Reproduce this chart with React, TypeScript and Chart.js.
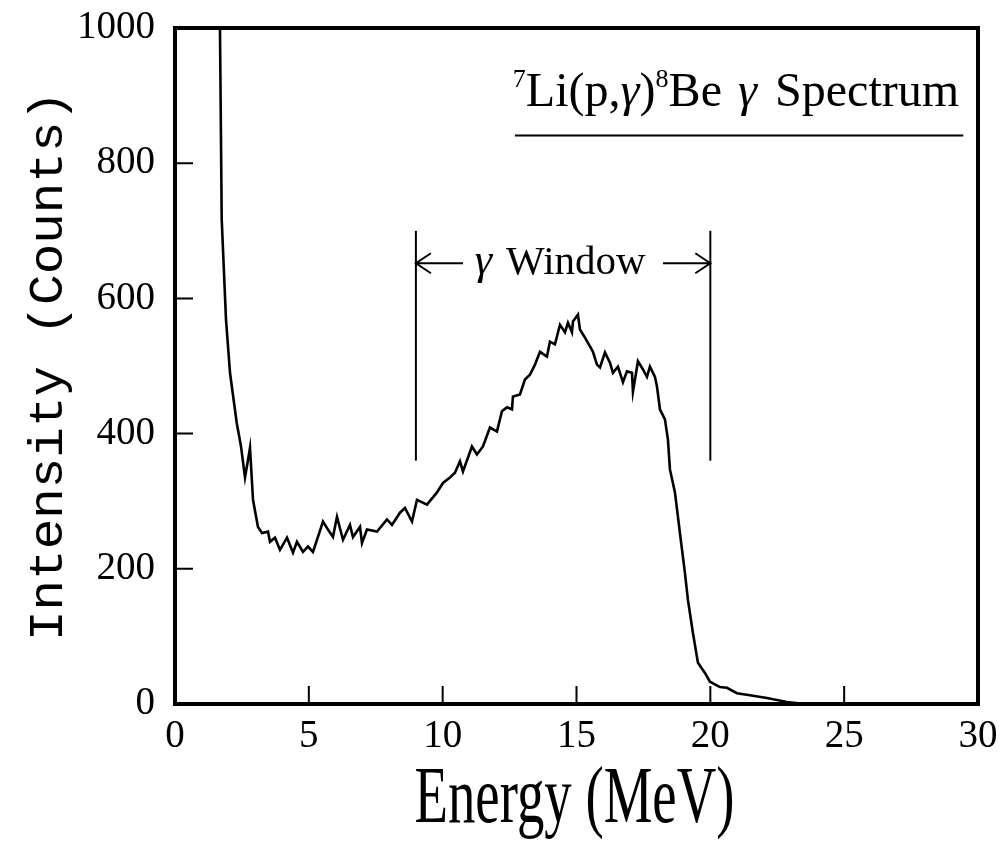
import React, { useEffect, useRef } from "react";
import { Chart, registerables } from "chart.js";

Chart.register(...registerables);

// Spectrum: energy (MeV) and counts
const energyMeV = [
  1.68, 1.745, 1.905, 2.055, 2.305, 2.466, 2.615, 2.727, 2.802, 2.914, 3.1, 3.25,
  3.474, 3.549, 3.736, 3.922, 4.184, 4.408, 4.557, 4.782, 4.968, 5.155, 5.529, 5.715,
  5.902, 6.052, 6.276, 6.537, 6.649, 6.911, 6.986, 7.172, 7.546, 7.919, 8.106, 8.405,
  8.592, 8.853, 9.04, 9.414, 9.787, 10.011, 10.273, 10.46, 10.646, 10.758, 11.094, 11.281,
  11.505, 11.767, 12.028, 12.215, 12.402, 12.589, 12.626, 12.888, 13.074, 13.261, 13.448, 13.635,
  13.896, 14.008, 14.195, 14.382, 14.569, 14.681, 14.83, 14.868, 15.054, 15.129, 15.316, 15.503,
  15.615, 15.764, 15.876, 16.063, 16.25, 16.362, 16.549, 16.735, 16.885, 17.072, 17.109, 17.296,
  17.482, 17.632, 17.744, 17.931, 18.005, 18.117, 18.304, 18.416, 18.491, 18.678, 18.864, 19.051,
  19.163, 19.35, 19.537, 19.798, 19.985, 20.359, 20.62, 20.994, 21.479, 22.114, 22.861, 23.534, 30,
];
const intensityCounts = [
  1000, 717, 569, 490, 416, 381, 335, 361, 379, 302, 262, 253,
  255, 240, 246, 228, 246, 224, 240, 225, 233, 225, 270, 258,
  247, 277, 243, 265, 247, 262, 238, 258, 255, 273, 265, 283,
  290, 270, 302, 295, 313, 327, 335, 342, 359, 344, 381, 369,
  381, 409, 403, 433, 439, 436, 455, 458, 480, 487, 502, 521,
  514, 536, 532, 561, 550, 564, 550, 566, 576, 554, 542, 529,
  521, 502, 498, 520, 505, 490, 499, 476, 492, 490, 462, 507,
  495, 484, 499, 484, 470, 436, 421, 391, 347, 313, 253, 194,
  154, 105, 61, 46, 33, 25, 24, 16, 13, 9, 3, 0, 0,
];

const xTickValues = [0, 5, 10, 15, 20, 25, 30];
const yTickValues = [0, 200, 400, 600, 800, 1000];

// gamma window markers
const windowEdges = [9, 20];
const windowLineCounts = [360, 700];
const windowArrowCount = 652;
const windowArrowInner = [10.76, 18.23];
const windowLabelEnergy = 11.2;
const windowLabelCount = 636;

// title and underline
const titleEnergyRange = [12.62, 29.3];
const titleCount = 884;
const underlineEnergy = [12.7, 29.45];
const underlineCount = 841;

const xTitle = "Energy (MeV)";
const yTitle = "Intensity (Counts)";

const SERIF = "'Liberation Serif', 'Times New Roman', serif";
const MONO = "'Liberation Mono', 'DejaVu Sans Mono', monospace";

const overlay = {
  id: "overlay",
  afterDatasetsDraw(chart: any) {
    const { ctx, chartArea: a, scales } = chart;
    const x = scales.x;
    const y = scales.y;
    ctx.save();
    ctx.fillStyle = "#000";
    ctx.strokeStyle = "#000";

    // frame
    ctx.lineWidth = 4;
    ctx.strokeRect(a.left, a.top, a.right - a.left, a.bottom - a.top);

    // inward ticks
    ctx.lineWidth = 2;
    ctx.beginPath();
    for (const t of yTickValues.slice(1, -1)) {
      const py = y.getPixelForValue(t);
      ctx.moveTo(a.left, py);
      ctx.lineTo(a.left + 18, py);
    }
    for (const t of xTickValues.slice(1, -1)) {
      const px = x.getPixelForValue(t);
      ctx.moveTo(px, a.bottom);
      ctx.lineTo(px, a.bottom - 18);
    }
    ctx.stroke();

    // window arrows
    const ay = y.getPixelForValue(windowArrowCount);
    ctx.lineWidth = 2;
    const arrow = (from: number, to: number) => {
      const fx = x.getPixelForValue(from);
      const tx = x.getPixelForValue(to);
      const dir = tx > fx ? 1 : -1;
      ctx.beginPath();
      ctx.moveTo(fx, ay);
      ctx.lineTo(tx, ay);
      ctx.moveTo(tx - dir * 15, ay - 10);
      ctx.lineTo(tx, ay);
      ctx.lineTo(tx - dir * 15, ay + 10);
      ctx.stroke();
    };
    arrow(windowArrowInner[0], windowEdges[0]);
    arrow(windowArrowInner[1], windowEdges[1]);

    // window label
    ctx.textBaseline = "alphabetic";
    ctx.textAlign = "left";
    let lx = x.getPixelForValue(windowLabelEnergy);
    const ly = y.getPixelForValue(windowLabelCount);
    ctx.font = `italic 44px ${SERIF}`;
    ctx.fillText("γ", lx, ly);
    lx += ctx.measureText("γ").width + 14;
    ctx.font = `41px ${SERIF}`;
    ctx.fillText("Window", lx, ly);

    // title with superscripts
    const main = `48px ${SERIF}`;
    const ital = `italic 48px ${SERIF}`;
    const sup = `26px ${SERIF}`;
    const segs: [string, string, number, number][] = [
      ["7", sup, -19, 0],
      ["Li(p,", main, 0, 0],
      ["γ", ital, 0, 0],
      [")", main, 0, 0],
      ["8", sup, -19, 0],
      ["Be", main, 0, 16],
      ["γ", ital, 0, 18],
      ["Spectrum", main, 0, 0],
    ];
    let total = 0;
    for (const [t, f, , gap] of segs) {
      ctx.font = f;
      total += ctx.measureText(t).width + gap;
    }
    const tx0 = x.getPixelForValue(titleEnergyRange[0]);
    const tx1 = x.getPixelForValue(titleEnergyRange[1]);
    const ty = y.getPixelForValue(titleCount);
    ctx.save();
    ctx.translate(tx0, ty);
    ctx.scale((tx1 - tx0) / total, 1);
    let cx = 0;
    for (const [t, f, dy, gap] of segs) {
      ctx.font = f;
      ctx.fillText(t, cx, dy);
      cx += ctx.measureText(t).width + gap;
    }
    ctx.restore();

    // axis titles
    const fit = (text: string, font: string, px: number, py: number, w: number, rot: number) => {
      ctx.save();
      ctx.font = font;
      ctx.textAlign = "center";
      ctx.textBaseline = "alphabetic";
      const nat = ctx.measureText(text).width;
      ctx.translate(px, py);
      ctx.rotate(rot);
      ctx.scale(w / nat, 1);
      ctx.fillText(text, 0, 0);
      ctx.restore();
    };
    const midX = (a.left + a.right) / 2;
    const midY = (a.top + a.bottom) / 2;
    fit(xTitle, `80px ${SERIF}`, midX - 2, 822, 320, 0);
    fit(yTitle, `48px ${MONO}`, 62, midY, 550, -Math.PI / 2);

    ctx.restore();
  },
};

export default function App() {
  const ref = useRef<HTMLCanvasElement | null>(null);
  useEffect(() => {
    if (!ref.current) return;
    const line = (pts: { x: number; y: number }[], w: number) => ({
      data: pts,
      borderColor: "#000",
      borderWidth: w,
      pointRadius: 0,
      fill: false,
      tension: 0,
    });
    const chart = new Chart(ref.current, {
      type: "line",
      data: {
        datasets: [
          line(energyMeV.map((e, i) => ({ x: e, y: intensityCounts[i] })), 2.6),
          line(windowLineCounts.map((c) => ({ x: windowEdges[0], y: c })), 2),
          line(windowLineCounts.map((c) => ({ x: windowEdges[1], y: c })), 2),
          line(underlineEnergy.map((e) => ({ x: e, y: underlineCount })), 2),
        ] as any,
      },
      options: {
        animation: false,
        responsive: false,
        devicePixelRatio: 1,
        layout: { padding: { top: 28, right: 27, left: 0, bottom: 0 } },
        plugins: { legend: { display: false }, tooltip: { enabled: false } },
        scales: {
          x: {
            type: "linear",
            min: 0,
            max: 30,
            afterFit: (s: any) => { s.height = 142; s.paddingLeft = 0; s.paddingRight = 0; },
            afterBuildTicks: (s: any) => { s.ticks = xTickValues.map((v) => ({ value: v })); },
            grid: { display: false, drawTicks: false },
            border: { display: false },
            ticks: { color: "#000", padding: 9, font: { family: SERIF, size: 39 }, maxRotation: 0, callback: (v: any) => String(v) },
          },
          y: {
            type: "linear",
            min: 0,
            max: 1000,
            afterFit: (s: any) => { s.width = 175; s.paddingTop = 0; s.paddingBottom = 0; },
            afterBuildTicks: (s: any) => { s.ticks = yTickValues.map((v) => ({ value: v })); },
            grid: { display: false, drawTicks: false },
            border: { display: false },
            ticks: { color: "#000", padding: 20, font: { family: SERIF, size: 39 }, callback: (v: any) => String(v) },
          },
        },
      } as any,
      plugins: [overlay],
    });
    return () => chart.destroy();
  }, []);
  return (
    <div style={{ position: "fixed", left: 0, top: 0, width: 1005, height: 846, background: "#fff" }}>
      <canvas ref={ref} width={1005} height={846} style={{ display: "block" }} />
    </div>
  );
}
